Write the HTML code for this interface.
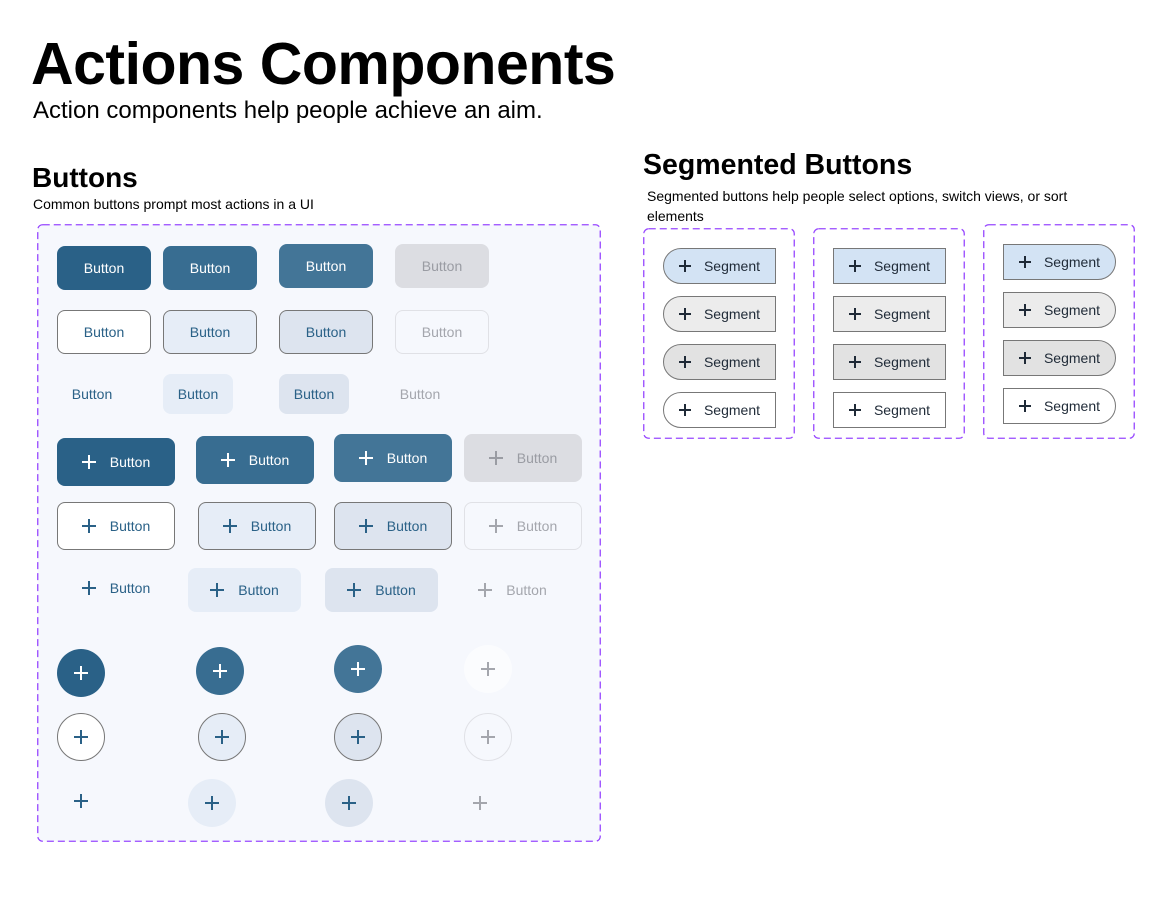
<!DOCTYPE html>
<html><head><meta charset="utf-8">
<style>
body{margin:0;width:1166px;height:910px;background:#fff;position:relative;font-family:"Liberation Sans",sans-serif;overflow:hidden}
.a{position:absolute}
.b{position:absolute;display:flex;align-items:center;justify-content:center;box-sizing:border-box;font-size:14px;color:#2a6187;border-radius:8px}
.f{background:#2a6187;color:#fff}
.f2{background:#386d91;color:#fff}
.f3{background:#437597;color:#fff}
.fd{background:#dcdde2;color:#9a9ca3}
.o{border:1px solid #777;background:#fff}
.o2{border:1px solid #777;background:#e6edf7}
.o3{border:1px solid #777;background:#dde4ef}
.od{border:1px solid #e0e1e6;color:#a4a6ad}
.t2{background:#e6edf7}
.t3{background:#dde4ef}
.td{color:#a4a6ad}
.c{border-radius:50%}
.p{display:inline-block;width:14px;height:14px;position:relative;margin-right:14px}
.p:before{content:"";position:absolute;left:6px;top:0;width:2px;height:14px;background:currentColor}
.p:after{content:"";position:absolute;top:6px;left:0;height:2px;width:14px;background:currentColor}
.c .p,.n{margin-right:0}
.s{position:absolute;width:113px;height:36px;box-sizing:border-box;border:1px solid #777;display:flex;align-items:center;justify-content:center;font-size:14px;color:#1f2a37}
.s .p{width:12px;height:12px;margin-right:13px}
.s .p:before{left:5px;height:12px}
.s .p:after{top:5px;width:12px}
.L{border-radius:18px 0 0 18px}
.R{border-radius:0 18px 18px 0}
.s1{background:#d3e3f4}.s2{background:#ececec}.s3{background:#e2e2e2}.s4{background:#fff}
svg.d{position:absolute;overflow:visible}
</style></head><body>
<div class="a" style="left:31px;top:30px;font-size:59px;font-weight:bold;letter-spacing:-0.5px;color:#000">Actions Components</div>
<div class="a" style="left:33px;top:97px;font-size:24px;color:#000">Action components help people achieve an aim.</div>
<div class="a" style="left:32px;top:162px;font-size:28px;font-weight:bold;color:#000">Buttons</div>
<div class="a" style="left:33px;top:196px;font-size:14px;color:#000">Common buttons prompt most actions in a UI</div>
<div class="a" style="left:643px;top:149px;font-size:28.5px;font-weight:bold;color:#000">Segmented Buttons</div>
<div class="a" style="left:647px;top:186px;font-size:14px;line-height:20px;color:#000;width:480px">Segmented buttons help people select options, switch views, or sort elements</div>

<svg class="d" style="left:37px;top:224px" width="564" height="618"><rect x="0.75" y="0.75" width="562.5" height="616.5" rx="5" fill="#f6f8fd" stroke="#9747ff" stroke-width="1.3" stroke-dasharray="7 4"/></svg>

<div class="b f" style="left:57px;top:246px;width:94px;height:44px">Button</div>
<div class="b f2" style="left:163px;top:246px;width:94px;height:44px">Button</div>
<div class="b f3" style="left:279px;top:244px;width:94px;height:44px">Button</div>
<div class="b fd" style="left:395px;top:244px;width:94px;height:44px">Button</div>

<div class="b o" style="left:57px;top:310px;width:94px;height:44px">Button</div>
<div class="b o2" style="left:163px;top:310px;width:94px;height:44px">Button</div>
<div class="b o3" style="left:279px;top:310px;width:94px;height:44px">Button</div>
<div class="b od" style="left:395px;top:310px;width:94px;height:44px">Button</div>

<div class="b" style="left:57px;top:374px;width:70px;height:40px">Button</div>
<div class="b t2" style="left:163px;top:374px;width:70px;height:40px">Button</div>
<div class="b t3" style="left:279px;top:374px;width:70px;height:40px">Button</div>
<div class="b td" style="left:385px;top:374px;width:70px;height:40px">Button</div>

<div class="b f" style="left:57px;top:438px;width:118px;height:48px"><span class="p"></span>Button</div>
<div class="b f2" style="left:196px;top:436px;width:118px;height:48px"><span class="p"></span>Button</div>
<div class="b f3" style="left:334px;top:434px;width:118px;height:48px"><span class="p"></span>Button</div>
<div class="b fd" style="left:464px;top:434px;width:118px;height:48px"><span class="p"></span>Button</div>

<div class="b o" style="left:57px;top:502px;width:118px;height:48px"><span class="p"></span>Button</div>
<div class="b o2" style="left:198px;top:502px;width:118px;height:48px"><span class="p"></span>Button</div>
<div class="b o3" style="left:334px;top:502px;width:118px;height:48px"><span class="p"></span>Button</div>
<div class="b od" style="left:464px;top:502px;width:118px;height:48px"><span class="p"></span>Button</div>

<div class="b" style="left:57px;top:566px;width:118px;height:44px"><span class="p"></span>Button</div>
<div class="b t2" style="left:188px;top:568px;width:113px;height:44px"><span class="p"></span>Button</div>
<div class="b t3" style="left:325px;top:568px;width:113px;height:44px"><span class="p"></span>Button</div>
<div class="b td" style="left:456px;top:568px;width:113px;height:44px"><span class="p"></span>Button</div>

<div class="b c f" style="left:57px;top:649px;width:48px;height:48px"><span class="p n"></span></div>
<div class="b c f2" style="left:196px;top:647px;width:48px;height:48px"><span class="p n"></span></div>
<div class="b c f3" style="left:334px;top:645px;width:48px;height:48px"><span class="p n"></span></div>
<div class="b c td" style="left:464px;top:645px;width:48px;height:48px;background:#fbfcfe"><span class="p n"></span></div>

<div class="b c o" style="left:57px;top:713px;width:48px;height:48px"><span class="p n"></span></div>
<div class="b c o2" style="left:198px;top:713px;width:48px;height:48px"><span class="p n"></span></div>
<div class="b c o3" style="left:334px;top:713px;width:48px;height:48px"><span class="p n"></span></div>
<div class="b c od" style="left:464px;top:713px;width:48px;height:48px"><span class="p n"></span></div>

<div class="b c" style="left:57px;top:777px;width:48px;height:48px"><span class="p n"></span></div>
<div class="b c t2" style="left:188px;top:779px;width:48px;height:48px"><span class="p n"></span></div>
<div class="b c t3" style="left:325px;top:779px;width:48px;height:48px"><span class="p n"></span></div>
<div class="b c td" style="left:456px;top:779px;width:48px;height:48px"><span class="p n"></span></div>

<svg class="d" style="left:643px;top:228px" width="152" height="211"><rect x="0.75" y="0.75" width="150.5" height="209.5" rx="5" fill="none" stroke="#9747ff" stroke-width="1.3" stroke-dasharray="7 4"/></svg>
<svg class="d" style="left:813px;top:228px" width="152" height="211"><rect x="0.75" y="0.75" width="150.5" height="209.5" rx="5" fill="none" stroke="#9747ff" stroke-width="1.3" stroke-dasharray="7 4"/></svg>
<svg class="d" style="left:983px;top:224px" width="152" height="215"><rect x="0.75" y="0.75" width="150.5" height="213.5" rx="5" fill="none" stroke="#9747ff" stroke-width="1.3" stroke-dasharray="7 4"/></svg>

<div class="s L s1" style="left:663px;top:248px"><span class="p"></span>Segment</div>
<div class="s L s2" style="left:663px;top:296px"><span class="p"></span>Segment</div>
<div class="s L s3" style="left:663px;top:344px"><span class="p"></span>Segment</div>
<div class="s L s4" style="left:663px;top:392px"><span class="p"></span>Segment</div>

<div class="s s1" style="left:833px;top:248px"><span class="p"></span>Segment</div>
<div class="s s2" style="left:833px;top:296px"><span class="p"></span>Segment</div>
<div class="s s3" style="left:833px;top:344px"><span class="p"></span>Segment</div>
<div class="s s4" style="left:833px;top:392px"><span class="p"></span>Segment</div>

<div class="s R s1" style="left:1003px;top:244px"><span class="p"></span>Segment</div>
<div class="s R s2" style="left:1003px;top:292px"><span class="p"></span>Segment</div>
<div class="s R s3" style="left:1003px;top:340px"><span class="p"></span>Segment</div>
<div class="s R s4" style="left:1003px;top:388px"><span class="p"></span>Segment</div>
</body></html>
